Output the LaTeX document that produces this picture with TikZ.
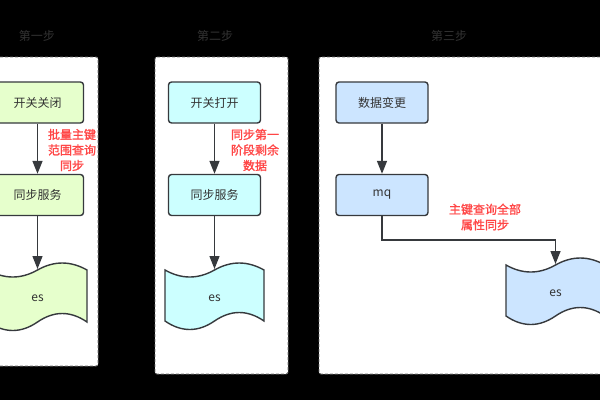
\documentclass[tikz,border=0pt]{standalone}
\usepackage{fontspec}
\setmainfont{Noto Sans CJK SC}
\newfontfamily\redfont[FakeBold=1.3]{Noto Sans CJK SC}
\usetikzlibrary{arrows.meta}
\definecolor{strokec}{HTML}{36393D}
\definecolor{textc}{HTML}{333333}
\definecolor{redc}{HTML}{FF4646}
\definecolor{greenf}{HTML}{E6FFCC}
\definecolor{cyanf}{HTML}{CCFFFF}
\definecolor{bluef}{HTML}{CCE5FF}
\definecolor{panelc}{HTML}{6E6E6E}
\tikzset{
  panelbox/.style={draw=panelc, fill=white, line width=0.9pt, dash pattern=on 3pt off 2pt, rounded corners=2pt},
  stepbox/.style={draw=strokec, line width=1.4pt, rounded corners=3pt, minimum width=92pt, minimum height=41pt, inner sep=0pt, text=textc, font=\fontsize{12}{14}\selectfont},
  tapestyle/.style={draw=strokec, line width=1.4pt},
  estext/.style={text=textc, font=\fontsize{12}{14}\selectfont, inner sep=0pt},
  titletext/.style={text=textc, font=\fontsize{12}{14}\selectfont, inner sep=0pt},
  redlabel/.style={text=redc, font=\redfont\fontsize{12}{15.5}\selectfont, align=center, inner sep=0pt},
  flow/.style={draw=strokec, line width=1.4pt, -{Triangle[width=10pt,length=13pt]}},
}
\newcommand\tapeshape[4]{%
  \draw[tapestyle, fill=#4] (#1,#2)
    .. controls ({#1+16.5},{#2+9.33}) and ({#1+33},{#2+9.33}) .. ({#1+49.5},#2)
    .. controls ({#1+66},{#2-9.33}) and ({#1+82.5},{#2-9.33}) .. ({#1+99},#2)
    -- ({#1+99},#3)
    .. controls ({#1+82.5},{#3-11.33}) and ({#1+66},{#3-11.33}) .. ({#1+49.5},#3)
    .. controls ({#1+33},{#3+11.33}) and ({#1+16.5},{#3+11.33}) .. (#1,#3)
    -- cycle;}
\begin{document}
\begin{tikzpicture}[x=1pt, y=-1pt]
  \useasboundingbox (0,0) rectangle (600,400);
  \fill[black] (0,0) rectangle (600,400);
  \clip (0,0) rectangle (600,400);

  % titles
  \node[titletext] (t1) at (37,36) {第一步};
  \node[titletext] (t2) at (215,36) {第二步};
  \node[titletext] (t3) at (449,36) {第三步};

  % panels
  \draw[panelbox] (-29,57) rectangle (98,366);
  \draw[panelbox] (155,57) rectangle (288,374);
  \draw[panelbox] (319,57) rectangle (640,374);

  % panel 1
  \node[stepbox, fill=greenf] (a1) at (37.5,102.5) {开关关闭};
  \node[stepbox, fill=greenf] (a2) at (37.5,195) {同步服务};
  \tapeshape{-12}{270}{322}{greenf}
  \node[estext] (a3) at (37.5,298) {es};
  \coordinate (a3top) at (37.5,269);
  \draw[flow] (a1.south) -- (a2.north);
  \draw[flow] (a2.south) -- (a3top);
  \node[redlabel] (l1) at (72,150) {批量主键\\范围查询\\同步};

  % panel 2
  \node[stepbox, fill=cyanf] (b1) at (214.5,102.5) {开关打开};
  \node[stepbox, fill=cyanf] (b2) at (214.5,195) {同步服务};
  \tapeshape{165}{270}{321}{cyanf}
  \node[estext] (b3) at (214.5,298) {es};
  \coordinate (b3top) at (214.5,269);
  \draw[flow] (b1.south) -- (b2.north);
  \draw[flow] (b2.south) -- (b3top);
  \node[redlabel] (l2) at (255,150) {同步第一\\阶段剩余\\数据};

  % panel 3
  \node[stepbox, fill=bluef] (c1) at (382,102.5) {数据变更};
  \node[stepbox, fill=bluef] (c2) at (382,195) {mq};
  \tapeshape{506}{265}{316}{bluef}
  \node[estext] (c3) at (555.5,293) {es};
  \coordinate (c3top) at (555.5,264);
  \coordinate (bend1) at (382,240);
  \coordinate (bend2) at (555.5,240);
  \draw[flow] (c1.south) -- (c2.north);
  \draw[flow] (c2.south) -- (bend1) -- (bend2) -- (c3top);
  \node[redlabel] (l3) at (485,217) {主键查询全部\\属性同步};
\end{tikzpicture}
\end{document}
